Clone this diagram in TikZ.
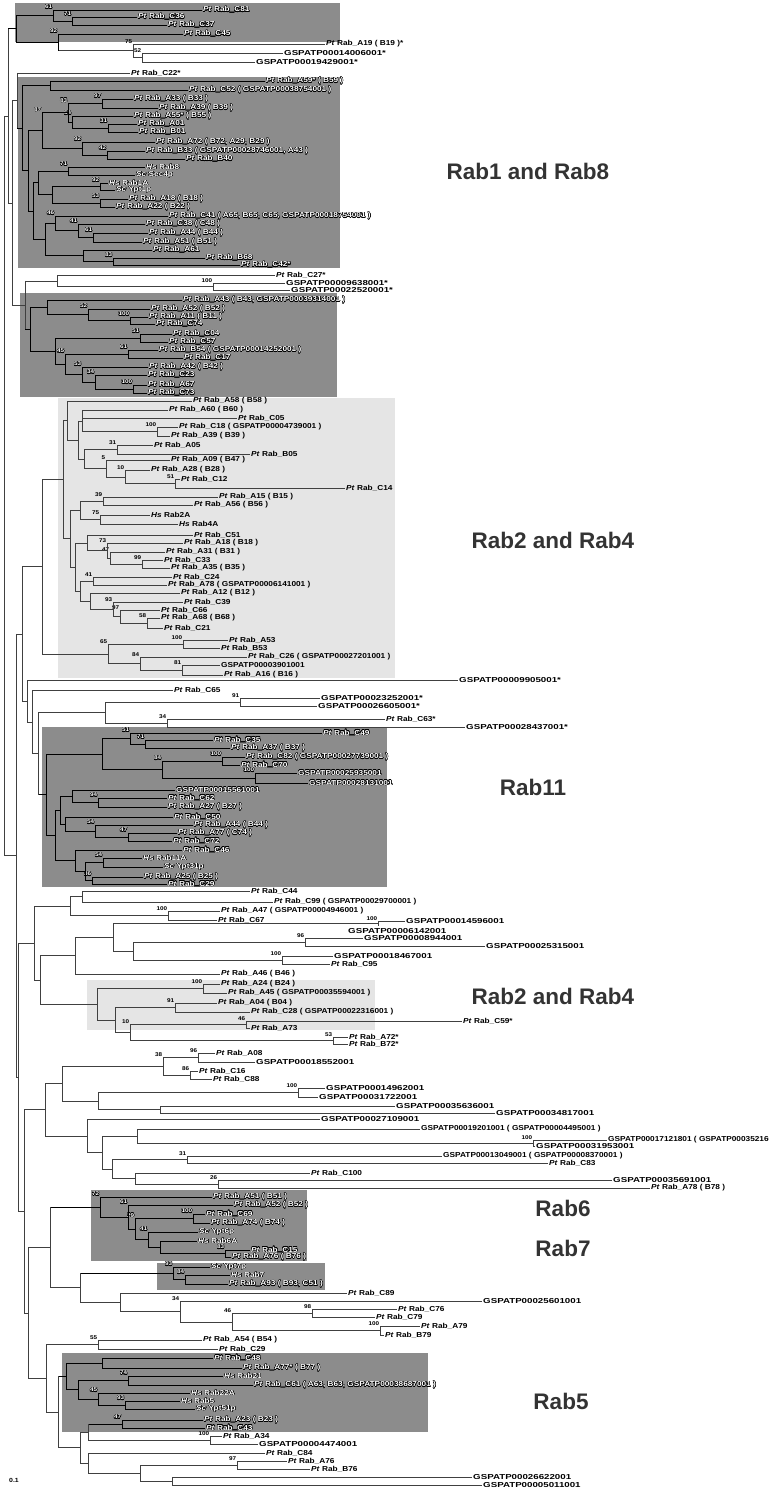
\documentclass[tikz,border=0pt]{standalone}
\usepackage{fontspec}
\setmainfont{Liberation Sans}
\newfontfamily\lblfont[FakeStretch=1.15]{Liberation Sans}
\newfontfamily\gsfont[FakeStretch=1.35]{Liberation Sans}
\usepackage[copies]{contour}
\contourlength{0.35pt}
\usepackage{tikz}
\usetikzlibrary{calc}
\definecolor{boxdark}{gray}{0.55}
\definecolor{boxlight}{gray}{0.9}
\newcommand{\lblwrap}[1]{#1}
\newcommand{\outlined}[1]{\contour{black}{#1}}
\tikzstyle{br} = [draw=black!75, line width=0.5pt]
\tikzstyle{lbl} = [anchor=west, inner sep=1pt, font={\lblfont\fontsize{7.2}{8}\selectfont\bfseries}]
\tikzstyle{boot} = [anchor=south east, inner sep=0.6pt, font={\lblfont\fontsize{5.5}{6}\selectfont\bfseries}]
\tikzstyle{darkbox} = [fill=boxdark, draw=none]
\tikzstyle{lightbox} = [fill=boxlight, draw=none]
\tikzstyle{dark} = [br/.style={draw=black, line width=0.9pt}, lbl/.append style={text=white}, boot/.append style={text=white}, /utils/exec={\let\lblwrap\outlined}]
\tikzstyle{group} = [anchor=center, text=black!80, font={\fontsize{22.5}{24}\selectfont\bfseries}]
\newcommand{\pr}[1]{\textit{Pt} Rab\_#1}
\newcommand{\hs}[1]{\textit{Hs} #1}
\newcommand{\scer}[1]{\textit{Sc} #1}
\newcommand{\gs}[1]{{\gsfont #1}}
% leaf: name, parent x, end x, y, text
\newcommand{\addleaf}[5]{%
  \node[lbl] (#1) at (#3,#4) {\lblwrap{#5}};
  \draw[br] (#2,#4) -- (#1.west);}
% clade: name, parent x, x, first child, last child, support
\newcommand{\addclade}[6]{%
  \coordinate (#1) at ($(#3,0 |- #4)!0.5!(#3,0 |- #5)$);
  \draw[br] (#3,0 |- #4) -- (#3,0 |- #5);
  \draw[br] (#2,0 |- #1) -- (#1);
  \ifx\relax#6\relax\else\node[boot] (bs#1) at (#3,0 |- #4) {\lblwrap{#6}};\fi}

\begin{document}
\begin{tikzpicture}[x=1pt, y=-1pt]
    \useasboundingbox (0,0) rectangle (768,1490);
    % Shaded groups
    \fill[darkbox] (15,3) rectangle (340,42);
    \fill[darkbox] (18,77) rectangle (340,268);
    \fill[darkbox] (20,293) rectangle (337,397);
    \fill[lightbox] (58,398) rectangle (395,678);
    \fill[darkbox] (42,727) rectangle (387,887);
    \fill[lightbox] (87,980) rectangle (375,1030);
    \fill[darkbox] (91,1190) rectangle (307,1261);
    \fill[darkbox] (157,1263) rectangle (325,1290);
    \fill[darkbox] (62,1353) rectangle (428,1432);
    % Group names
    \node[group] (rab18) at (528,171) {Rab1 and Rab8};
    \node[group] (rab24) at (553,540) {Rab2 and Rab4};
    \node[group] (rab11) at (533,787) {Rab11};
    \node[group] (rab24b) at (553,996) {Rab2 and Rab4};
    \node[group] (rab6) at (563,1208) {Rab6};
    \node[group] (rab7) at (563,1248) {Rab7};
    \node[group] (rab5) at (561,1401) {Rab5};
    \node[font={\lblfont\fontsize{6}{6}\selectfont\bfseries}] (scale) at (14,1480) {0.1};

    % Top group
    \begin{scope}[dark]
    \addleaf{pC81}{53}{202}{10}{\pr{C81}}
    \addleaf{pC36}{72}{137}{17}{\pr{C36}}
    \addleaf{pC37}{72}{167}{25}{\pr{C37}}
    \addclade{cA2}{53}{72}{pC36}{pC37}{71}
    \addclade{cA1}{16}{53}{pC81}{cA2}{61}
    \end{scope}
    \addleaf{pA19}{133}{325}{44}{\pr{A19} ( B19 )*}
    \addleaf{g14006}{142}{283}{53}{\gs{GSPATP00014006001*}}
    \addleaf{g19429}{142}{255}{62}{\gs{GSPATP00019429001*}}
    \addclade{cA5}{133}{142}{g14006}{g19429}{52}
    \addclade{cA4}{58}{133}{pA19}{cA5}{75}
    \begin{scope}[dark]
    \addleaf{pC45}{58}{183}{34}{\pr{C45}}
    \addclade{cA3}{16}{58}{pC45}{cA4}{92}
    \addclade{cA}{8}{16}{cA1}{cA3}{}
    \end{scope}

    % Rab1 and Rab8
    \addleaf{pC22}{17}{130}{73}{\pr{C22}*}
    \begin{scope}[dark]
    \addleaf{pA59}{50}{265}{81}{\pr{A59}* ( B59 )}
    \addleaf{pC52}{50}{188}{90}{\pr{C52} ( GSPATP00038754001 )}
    \addclade{cB2}{22}{50}{pA59}{pC52}{}
    \addleaf{pA33}{102}{133}{99}{\pr{A33} ( B33 )}
    \addleaf{pA39}{102}{158}{108}{\pr{A39} ( B39 )}
    \addclade{cA33}{68}{102}{pA33}{pA39}{97}
    \addleaf{pA55}{72}{133}{116}{\pr{A55}* ( B55 )}
    \addleaf{pA01}{108}{137}{124}{\pr{A01}}
    \addleaf{pB01}{108}{138}{132}{\pr{B01}}
    \addclade{cA01}{72}{108}{pA01}{pB01}{31}
    \addclade{cA55}{68}{72}{pA55}{cA01}{54}
    \addclade{cA68}{42}{68}{cA33}{cA55}{83}
    \addleaf{pA72}{82}{155}{142}{\pr{A72} ( B72, A29, B29 )}
    \addleaf{pB33}{107}{145}{151}{\pr{B33} ( GSPATP00028746001, A43 )}
    \addleaf{pB40}{107}{185}{159}{\pr{B40}}
    \addclade{cB33}{82}{107}{pB33}{pB40}{42}
    \addclade{cA72}{42}{82}{pA72}{cB33}{92}
    \addclade{cGA}{28}{42}{cA68}{cA72}{87}
    \addleaf{hR8}{68}{145}{167}{\hs{Rab8}}
    \addleaf{sSec4}{68}{135}{175}{\scer{Sec4p}}
    \addclade{cR8}{38}{68}{hR8}{sSec4}{71}
    \addleaf{hR1A}{100}{108}{183}{\hs{Rab1A}}
    \addleaf{sYpt1}{100}{115}{190}{\scer{Ypt1p}}
    \addclade{cR1}{52}{100}{hR1A}{sYpt1}{92}
    \addleaf{pA18}{100}{128}{199}{\pr{A18} ( B18 )}
    \addleaf{pA22}{100}{115}{207}{\pr{A22} ( B22 )}
    \addclade{cA18}{52}{100}{pA18}{pA22}{53}
    \addclade{cR1b}{38}{52}{cR1}{cA18}{}
    \addclade{cR8b}{33}{38}{cR8}{cR1b}{}
    \addleaf{pC41}{55}{168}{216}{\pr{C41} ( A65, B65, C65, GSPATP00018754001 )}
    \addleaf{pC38}{78}{145}{224}{\pr{C38} ( C48 )}
    \addleaf{pA44}{93}{148}{233}{\pr{A44} ( B44 )}
    \addleaf{pA51}{93}{142}{242}{\pr{A51} ( B51 )}
    \addclade{cA51}{78}{93}{pA44}{pA51}{61}
    \addclade{cC38}{55}{78}{pC38}{cA51}{41}
    \addclade{cC41}{45}{55}{pC41}{cC38}{46}
    \addleaf{pA61}{83}{152}{250}{\pr{A61}}
    \addleaf{pB68}{113}{205}{258}{\pr{B68}}
    \addleaf{pC42}{113}{240}{265}{\pr{C42}*}
    \addclade{cB68}{83}{113}{pB68}{pC42}{83}
    \addclade{cA61}{45}{83}{pA61}{cB68}{}
    \addclade{cA61b}{33}{45}{cC41}{cA61}{}
    \addclade{cGB}{28}{33}{cR8b}{cA61b}{}
    \addclade{cB3}{22}{28}{cGA}{cGB}{}
    \addclade{cB1}{17}{22}{cB2}{cB3}{}
    \end{scope}
    \addclade{cB}{12}{17}{pC22}{cB1}{}

    % C27 and third dark group
    \addleaf{pC27}{57}{275}{275}{\pr{C27}*}
    \addleaf{g9638}{213}{285}{283}{\gs{GSPATP00009638001*}}
    \addleaf{g22520}{213}{290}{290}{\gs{GSPATP00022520001*}}
    \addclade{cC27b}{57}{213}{g9638}{g22520}{100}
    \addclade{cC27}{25}{57}{pC27}{cC27b}{}
    \begin{scope}[dark]
    \addleaf{pA43}{47}{182}{300}{\pr{A43} ( B43, GSPATP00039314001 )}
    \addleaf{pA52}{88}{150}{309}{\pr{A52} ( B52 )}
    \addleaf{pA11}{130}{148}{317}{\pr{A11} ( B11 )}
    \addleaf{pC74}{130}{155}{324}{\pr{C74}}
    \addclade{cD1}{88}{130}{pA11}{pC74}{100}
    \addclade{cD2}{47}{88}{pA52}{cD1}{52}
    \addclade{cD3}{30}{47}{pA43}{cD2}{}
    \addleaf{pC04}{140}{172}{334}{\pr{C04}}
    \addleaf{pC57}{140}{168}{342}{\pr{C57}}
    \addclade{cD4}{55}{140}{pC04}{pC57}{51}
    \addleaf{pB54}{128}{158}{350}{\pr{B54} ( GSPATP00014252001 )}
    \addleaf{pC17}{128}{183}{358}{\pr{C17}}
    \addclade{cD5}{65}{128}{pB54}{pC17}{61}
    \addleaf{pA42}{82}{148}{367}{\pr{A42} ( B42 )}
    \addleaf{pC23}{95}{147}{375}{\pr{C23}}
    \addleaf{pA67}{133}{147}{385}{\pr{A67}}
    \addleaf{pC73}{133}{147}{393}{\pr{C73}}
    \addclade{cD6}{95}{133}{pA67}{pC73}{100}
    \addclade{cD7}{82}{95}{pC23}{cD6}{34}
    \addclade{cD8}{65}{82}{pA42}{cD7}{53}
    \addclade{cD9}{55}{65}{cD5}{cD8}{45}
    \addclade{cD10}{30}{55}{cD4}{cD9}{}
    \addclade{cD}{25}{30}{cD3}{cD10}{}
    \end{scope}
    \addclade{cCD}{12}{25}{cC27}{cD}{}
    \addclade{cTa}{8}{12}{cB}{cCD}{}
    \addclade{cTb}{4}{8}{cA}{cTa}{}

    % Rab2 and Rab4
    \addleaf{pA58}{67}{192}{401}{\pr{A58} ( B58 )}
    \addleaf{pA60}{82}{168}{410}{\pr{A60} ( B60 )}
    \addleaf{pC05}{82}{237}{418}{\pr{C05}}
    \addleaf{pC18}{157}{178}{427}{\pr{C18} ( GSPATP00004739001 )}
    \addleaf{pA39b}{157}{170}{436}{\pr{A39} ( B39 )}
    \addclade{cE1}{82}{157}{pC18}{pA39b}{100}
    \addclade{cE2}{78}{82}{pA60}{cE1}{}
    \addleaf{pA05}{117}{153}{445}{\pr{A05}}
    \addleaf{pB05}{117}{250}{454}{\pr{B05}}
    \addclade{cE3}{84}{117}{pA05}{pB05}{31}
    \addleaf{pA09}{106}{170}{460}{\pr{A09} ( B47 )}
    \addleaf{pA28}{125}{150}{470}{\pr{A28} ( B28 )}
    \addleaf{pC12}{175}{180}{479}{\pr{C12}}
    \addleaf{pC14}{175}{345}{488}{\pr{C14}}
    \addclade{cE4}{125}{175}{pC12}{pC14}{51}
    \addclade{cE5}{106}{125}{pA28}{cE4}{10}
    \addclade{cE6}{84}{106}{pA09}{cE5}{5}
    \addclade{cE7}{78}{84}{cE3}{cE6}{}
    \addclade{cE8}{67}{78}{cE2}{cE7}{}
    \addclade{cE}{63}{67}{pA58}{cE8}{}
    \addleaf{pA15}{103}{218}{497}{\pr{A15} ( B15 )}
    \addleaf{pA56}{103}{193}{505}{\pr{A56} ( B56 )}
    \addclade{cF1}{80}{103}{pA15}{pA56}{39}
    \addleaf{hR2A}{100}{150}{515}{\hs{Rab2A}}
    \addleaf{hR4A}{100}{178}{524}{\hs{Rab4A}}
    \addclade{cF2}{80}{100}{hR2A}{hR4A}{75}
    \addclade{cF}{70}{80}{cF1}{cF2}{}
    \addleaf{pC51}{87}{193}{535}{\pr{C51}}
    \addleaf{pA18b}{107}{183}{543}{\pr{A18} ( B18 )}
    \addleaf{pA31}{110}{165}{552}{\pr{A31} ( B31 )}
    \addleaf{pC33}{142}{163}{560}{\pr{C33}}
    \addleaf{pA35}{142}{170}{568}{\pr{A35} ( B35 )}
    \addclade{cG1}{110}{142}{pC33}{pA35}{99}
    \addclade{cG2}{107}{110}{pA31}{cG1}{47}
    \addclade{cG3}{87}{107}{pA18b}{cG2}{73}
    \addclade{cG4}{75}{87}{pC51}{cG3}{}
    \addleaf{pC24}{93}{172}{577}{\pr{C24}}
    \addleaf{pA78}{93}{167}{585}{\pr{A78} ( GSPATP00006141001 )}
    \addclade{cG5}{80}{93}{pC24}{pA78}{41}
    \addleaf{pA12}{90}{180}{593}{\pr{A12} ( B12 )}
    \addleaf{pC39}{113}{183}{602}{\pr{C39}}
    \addleaf{pC66}{120}{160}{610}{\pr{C66}}
    \addleaf{pA68}{147}{160}{618}{\pr{A68} ( B68 )}
    \addleaf{pC21}{147}{163}{628}{\pr{C21}}
    \addclade{cG6}{120}{147}{pA68}{pC21}{58}
    \addclade{cG7}{113}{120}{pC66}{cG6}{97}
    \addclade{cG8}{90}{113}{pC39}{cG7}{93}
    \addclade{cG9}{80}{90}{pA12}{cG8}{}
    \addclade{cG10}{75}{80}{cG5}{cG9}{}
    \addclade{cG}{70}{75}{cG4}{cG10}{}
    \addclade{cFG}{63}{70}{cF}{cG}{}
    \addclade{cEFG}{42}{63}{cE}{cFG}{}
    \addleaf{pA53}{183}{228}{640}{\pr{A53}}
    \addleaf{pB53}{183}{220}{648}{\pr{B53}}
    \addclade{cH1}{108}{183}{pA53}{pB53}{100}
    \addleaf{pC26}{140}{247}{657}{\pr{C26} ( GSPATP00027201001 )}
    \addleaf{g3901}{182}{220}{665}{GSPATP00003901001}
    \addleaf{pA16}{182}{223}{675}{\pr{A16} ( B16 )}
    \addclade{cH2}{140}{182}{g3901}{pA16}{81}
    \addclade{cH3}{108}{140}{pC26}{cH2}{84}
    \addclade{cH}{42}{108}{cH1}{cH3}{65}
    \addclade{cL}{22}{42}{cEFG}{cH}{}

    % Between the groups
    \addleaf{g9905}{27}{458}{680}{\gs{GSPATP00009905001*}}
    \addleaf{pC65}{32}{173}{690}{\pr{C65}}
    \addleaf{g23252}{240}{320}{698}{\gs{GSPATP00023252001*}}
    \addleaf{g26605}{240}{317}{706}{\gs{GSPATP00026605001*}}
    \addclade{cI1}{105}{240}{g23252}{g26605}{91}
    \addleaf{pC63}{167}{385}{719}{\pr{C63}*}
    \addleaf{g28437}{167}{465}{727}{\gs{GSPATP00028437001*}}
    \addclade{cI2}{105}{167}{pC63}{g28437}{34}
    \addclade{cI}{38}{105}{cI1}{cI2}{}

    % Rab11
    \begin{scope}[dark]
    \addleaf{pC49}{130}{322}{733}{\pr{C49}}
    \addleaf{pC35}{145}{213}{740}{\pr{C35}}
    \addleaf{pA37}{145}{230}{748}{\pr{A37} ( B37 )}
    \addclade{cJ1}{130}{145}{pC35}{pA37}{71}
    \addclade{cJ2}{102}{130}{pC49}{cJ1}{51}
    \addleaf{pC82}{222}{245}{757}{\pr{C82} ( GSPATP00027739001 )}
    \addleaf{pC70}{222}{240}{765}{\pr{C70}}
    \addclade{cJ3}{162}{222}{pC82}{pC70}{100}
    \addleaf{g25935}{255}{297}{773}{GSPATP00025935001}
    \addleaf{g28131}{255}{308}{783}{GSPATP00028131001}
    \addclade{cJ4}{162}{255}{g25935}{g28131}{100}
    \addclade{cJ5}{102}{162}{cJ3}{cJ4}{84}
    \addclade{cJ6}{46}{102}{cJ2}{cJ5}{}
    \addleaf{g15561}{72}{175}{790}{GSPATP00015561001}
    \addleaf{pC62}{98}{167}{798}{\pr{C62}}
    \addleaf{pA27}{98}{167}{807}{\pr{A27} ( B27 )}
    \addclade{cJ7}{72}{98}{pC62}{pA27}{94}
    \addclade{cJ8}{60}{72}{g15561}{cJ7}{}
    \addleaf{pC50}{65}{173}{817}{\pr{C50}}
    \addleaf{pA44b}{95}{193}{825}{\pr{A44} ( B44 )}
    \addleaf{pA77}{128}{177}{833}{\pr{A77} ( C74 )}
    \addleaf{pC72}{128}{172}{841}{\pr{C72}}
    \addclade{cJ9}{95}{128}{pA77}{pC72}{47}
    \addclade{cJ10}{65}{95}{pA44b}{cJ9}{54}
    \addclade{cJ11}{60}{65}{pC50}{cJ10}{}
    \addclade{cJ12}{55}{60}{cJ8}{cJ11}{}
    \addleaf{pC46}{75}{182}{850}{\pr{C46}}
    \addleaf{hR11A}{103}{142}{858}{\hs{Rab11A}}
    \addleaf{sYpt31}{103}{163}{867}{\scer{Ypt31p}}
    \addclade{cJ13}{85}{103}{hR11A}{sYpt31}{54}
    \addleaf{pA25}{92}{143}{877}{\pr{A25} ( B25 )}
    \addleaf{pC29}{92}{167}{884}{\pr{C29}}
    \addclade{cJ14}{85}{92}{pA25}{pC29}{36}
    \addclade{cJ15}{75}{85}{cJ13}{cJ14}{}
    \addclade{cJ16}{55}{75}{pC46}{cJ15}{}
    \addclade{cJ17}{46}{55}{cJ12}{cJ16}{}
    \addclade{cJ}{38}{46}{cJ6}{cJ17}{}
    \end{scope}
    \addclade{cIJ}{32}{38}{cI}{cJ}{}
    \addclade{cK}{27}{32}{pC65}{cIJ}{}
    \addclade{cK2}{22}{27}{g9905}{cK}{}
    \addclade{cLK}{16}{22}{cL}{cK2}{}

    % Lower part
    \addleaf{pC44}{82}{250}{891}{\pr{C44}}
    \addleaf{pC99}{82}{273}{902}{\pr{C99} ( GSPATP00029700001 )}
    \addclade{cM1}{70}{82}{pC44}{pC99}{}
    \addleaf{pA47}{168}{220}{911}{\pr{A47} ( GSPATP00004946001 )}
    \addleaf{pC67}{168}{217}{920}{\pr{C67}}
    \addclade{cM2}{70}{168}{pA47}{pC67}{100}
    \addclade{cM}{34}{70}{cM1}{cM2}{}
    \addleaf{g14596}{378}{405}{921}{\gs{GSPATP00014596001}}
    \node[lbl] (g6142) at (347,931) {\gs{GSPATP00006142001}};
    \coordinate (g6142tip) at (378,926);
    \addclade{cN1}{113}{378}{g14596}{g6142tip}{100}
    \addleaf{g8944}{305}{363}{938}{\gs{GSPATP00008944001}}
    \addleaf{g25315}{305}{485}{946}{\gs{GSPATP00025315001}}
    \addclade{cN2}{133}{305}{g8944}{g25315}{96}
    \addleaf{g18467}{282}{333}{956}{\gs{GSPATP00018467001}}
    \addleaf{pC95}{282}{330}{964}{\pr{C95}}
    \addclade{cN3}{133}{282}{g18467}{pC95}{100}
    \addclade{cN4}{113}{133}{cN2}{cN3}{}
    \addclade{cN5}{75}{113}{cN1}{cN4}{}
    \addleaf{pA46}{75}{220}{974}{\pr{A46} ( B46 )}
    \addclade{cN}{40}{75}{cN5}{pA46}{}
    \addleaf{pA24}{203}{220}{984}{\pr{A24} ( B24 )}
    \addleaf{pA45}{203}{227}{993}{\pr{A45} ( GSPATP00035594001 )}
    \addclade{cO1}{97}{203}{pA24}{pA45}{100}
    \addleaf{pA04}{175}{217}{1003}{\pr{A04} ( B04 )}
    \addleaf{pC28}{175}{250}{1012}{\pr{C28} ( GSPATP00022316001 )}
    \addclade{cO2}{115}{175}{pA04}{pC28}{91}
    \addleaf{pC59}{246}{462}{1021}{\pr{C59}*}
    \addleaf{pA73}{246}{250}{1028}{\pr{A73}}
    \addclade{cO3}{130}{246}{pC59}{pA73}{46}
    \addleaf{pA72s}{333}{348}{1037}{\pr{A72}*}
    \addleaf{pB72s}{333}{348}{1044}{\pr{B72}*}
    \addclade{cO4}{130}{333}{pA72s}{pB72s}{53}
    \addclade{cO5}{115}{130}{cO3}{cO4}{10}
    \addclade{cO6}{97}{115}{cO2}{cO5}{}
    \addclade{cO}{40}{97}{cO1}{cO6}{}
    \addclade{cNO}{34}{40}{cN}{cO}{}
    \addclade{cMNO}{18}{34}{cM}{cNO}{}
    \addleaf{pA08}{198}{215}{1053}{\pr{A08}}
    \addleaf{g18552}{198}{255}{1062}{\gs{GSPATP00018552001}}
    \addclade{cP1}{163}{198}{pA08}{g18552}{96}
    \addleaf{pC16}{190}{198}{1071}{\pr{C16}}
    \addleaf{pC88}{190}{212}{1079}{\pr{C88}}
    \addclade{cP2}{163}{190}{pC16}{pC88}{86}
    \addclade{cP3}{62}{163}{cP1}{cP2}{38}
    \addleaf{g14962}{298}{325}{1088}{\gs{GSPATP00014962001}}
    \addleaf{g31722}{298}{318}{1097}{\gs{GSPATP00031722001}}
    \addclade{cP4}{98}{298}{g14962}{g31722}{100}
    \addleaf{g35636}{160}{395}{1106}{\gs{GSPATP00035636001}}
    \addleaf{g34817}{160}{495}{1113}{\gs{GSPATP00034817001}}
    \addclade{cP5}{98}{160}{g35636}{g34817}{}
    \addclade{cP6}{62}{98}{cP4}{cP5}{}
    \addclade{cP}{45}{62}{cP3}{cP6}{}
    \addleaf{g27109}{87}{320}{1119}{\gs{GSPATP00027109001}}
    \addleaf{g19201}{137}{420}{1129}{GSPATP00019201001 ( GSPATP00004495001 )}
    \addleaf{g17121}{533}{607}{1140}{GSPATP00017121801 ( GSPATP00035216001 )}
    \addleaf{g31953}{533}{535}{1146}{\gs{GSPATP00031953001}}
    \addclade{cQ1}{137}{533}{g17121}{g31953}{100}
    \addclade{cQ2}{102}{137}{g19201}{cQ1}{}
    \addleaf{g13049}{187}{442}{1156}{GSPATP00013049001 ( GSPATP00008370001 )}
    \addleaf{pC83}{187}{548}{1163}{\pr{C83}}
    \addclade{cQ3}{112}{187}{g13049}{pC83}{31}
    \addleaf{pC100}{135}{310}{1173}{\pr{C100}}
    \addleaf{g35691}{218}{612}{1180}{\gs{GSPATP00035691001}}
    \addleaf{pA78b}{218}{650}{1188}{\pr{A78} ( B78 )}
    \addclade{cQ4}{135}{218}{g35691}{pA78b}{26}
    \addclade{cQ5}{112}{135}{pC100}{cQ4}{}
    \addclade{cQ6}{102}{112}{cQ3}{cQ5}{}
    \addclade{cQ7}{87}{102}{cQ2}{cQ6}{}
    \addclade{cQ}{45}{87}{g27109}{cQ7}{}
    \addclade{cPQ}{24}{45}{cP}{cQ}{}

    % Rab6
    \begin{scope}[dark]
    \addleaf{pA51b}{100}{212}{1197}{\pr{A51} ( B51 )}
    \addleaf{pA52b}{128}{233}{1205}{\pr{A52} ( B52 )}
    \addleaf{pC69}{193}{205}{1214}{\pr{C69}}
    \addleaf{pA74}{193}{210}{1223}{\pr{A74} ( B74 )}
    \addleaf{sYpt6}{148}{198}{1232}{\scer{Ypt6p}}
    \addleaf{hR6A}{160}{197}{1241}{\hs{Rab6A}}
    \addleaf{pC15}{225}{250}{1250}{\pr{C15}}
    \addleaf{pA76b}{225}{231}{1257}{\pr{A76} ( B76 )}
    \addclade{r6a}{160}{225}{pC15}{pA76b}{83}
    \addclade{r6b}{148}{160}{hR6A}{r6a}{}
    \addclade{r6c}{135}{148}{sYpt6}{r6b}{41}
    \addclade{r6d}{135}{193}{pC69}{pA74}{100}
    \addclade{r6e}{128}{135}{r6d}{r6c}{29}
    \addclade{r6f}{100}{128}{pA52b}{r6e}{61}
    \addclade{r6}{50}{100}{pA51b}{r6f}{72}
    % Rab7
    \addleaf{sYpt7}{173}{210}{1267}{\scer{Ypt7p}}
    \addleaf{hR7}{185}{230}{1275}{\hs{Rab7}}
    \addleaf{pA93}{185}{228}{1284}{\pr{A93} ( B93, C51 )}
    \addclade{r7a}{173}{185}{hR7}{pA93}{84}
    \addclade{r7}{80}{173}{sYpt7}{r7a}{93}
    \end{scope}
    \addleaf{pC89}{120}{347}{1293}{\pr{C89}}
    \addleaf{g25601}{180}{482}{1301}{\gs{GSPATP00025601001}}
    \addleaf{pC76}{312}{397}{1309}{\pr{C76}}
    \addleaf{pC79}{312}{375}{1317}{\pr{C79}}
    \addclade{cT1}{232}{312}{pC76}{pC79}{98}
    \addleaf{pA79}{380}{420}{1326}{\pr{A79}}
    \addleaf{pB79}{380}{384}{1335}{\pr{B79}}
    \addclade{cT2}{232}{380}{pA79}{pB79}{100}
    \addclade{cT3}{180}{232}{cT1}{cT2}{46}
    \addclade{cT4}{120}{180}{g25601}{cT3}{34}
    \addclade{cT5}{80}{120}{pC89}{cT4}{}
    \addclade{cST}{50}{80}{r7}{cT5}{}
    \addclade{cRST}{28}{50}{r6}{cST}{}

    % Rab5
    \addleaf{pA54}{98}{202}{1340}{\pr{A54} ( B54 )}
    \addleaf{pC29b}{98}{218}{1349}{\pr{C29}}
    \addclade{cU1}{46}{98}{pA54}{pC29b}{55}
    \begin{scope}[dark]
    \addleaf{pC48}{102}{213}{1358}{\pr{C48}}
    \addleaf{pA77b}{102}{242}{1368}{\pr{A77}* ( B77 )}
    \addclade{cV1}{66}{102}{pC48}{pA77b}{}
    \addleaf{hR21}{128}{223}{1376}{\hs{Rab21}}
    \addleaf{pC61}{128}{253}{1385}{\pr{C61} ( A63, B63, GSPATP00038687001 )}
    \addclade{cV2}{78}{128}{hR21}{pC61}{74}
    \addleaf{hR22A}{98}{190}{1393}{\hs{Rab22A}}
    \addleaf{hR5}{125}{180}{1401}{\hs{Rab5}}
    \addleaf{sYpt51}{125}{195}{1409}{\scer{Ypt51p}}
    \addclade{cV3}{98}{125}{hR5}{sYpt51}{93}
    \addclade{cV4}{78}{98}{hR22A}{cV3}{45}
    \addclade{cV5}{66}{78}{cV2}{cV4}{}
    \addclade{cV}{58}{66}{cV1}{cV5}{}
    \addleaf{pA23}{122}{203}{1420}{\pr{A23} ( B23 )}
    \addleaf{pC43}{122}{205}{1428}{\pr{C43}}
    \addclade{cW1}{88}{122}{pA23}{pC43}{47}
    \end{scope}
    \addleaf{pA34}{210}{222}{1436}{\pr{A34}}
    \addleaf{g4474}{210}{258}{1444}{\gs{GSPATP00004474001}}
    \addclade{cW2}{88}{210}{pA34}{g4474}{100}
    \addclade{cW3}{80}{88}{cW1}{cW2}{}
    \addleaf{pC84}{88}{265}{1453}{\pr{C84}}
    \addleaf{pA76}{237}{287}{1461}{\pr{A76}}
    \addleaf{pB76}{237}{310}{1469}{\pr{B76}}
    \addclade{cW4}{140}{237}{pA76}{pB76}{97}
    \addleaf{g26622}{172}{472}{1477}{\gs{GSPATP00026622001}}
    \addleaf{g5011}{172}{482}{1485}{\gs{GSPATP00005011001}}
    \addclade{cW5}{140}{172}{g26622}{g5011}{}
    \addclade{cW6}{88}{140}{cW4}{cW5}{}
    \addclade{cW7}{80}{88}{pC84}{cW6}{}
    \addclade{cW}{58}{80}{cW3}{cW7}{}
    \addclade{cVW}{46}{58}{cV}{cW}{}
    \addclade{cUVW}{28}{46}{cU1}{cVW}{}
    \addclade{cLow}{24}{28}{cRST}{cUVW}{}
    \addclade{cLow2}{18}{24}{cPQ}{cLow}{}
    \addclade{cLow3}{16}{18}{cMNO}{cLow2}{}

    % Backbone
    \addclade{cMid}{4}{16}{cLK}{cLow3}{}
    \addclade{root}{4}{4}{cTb}{cMid}{}
\end{tikzpicture}
\end{document}
